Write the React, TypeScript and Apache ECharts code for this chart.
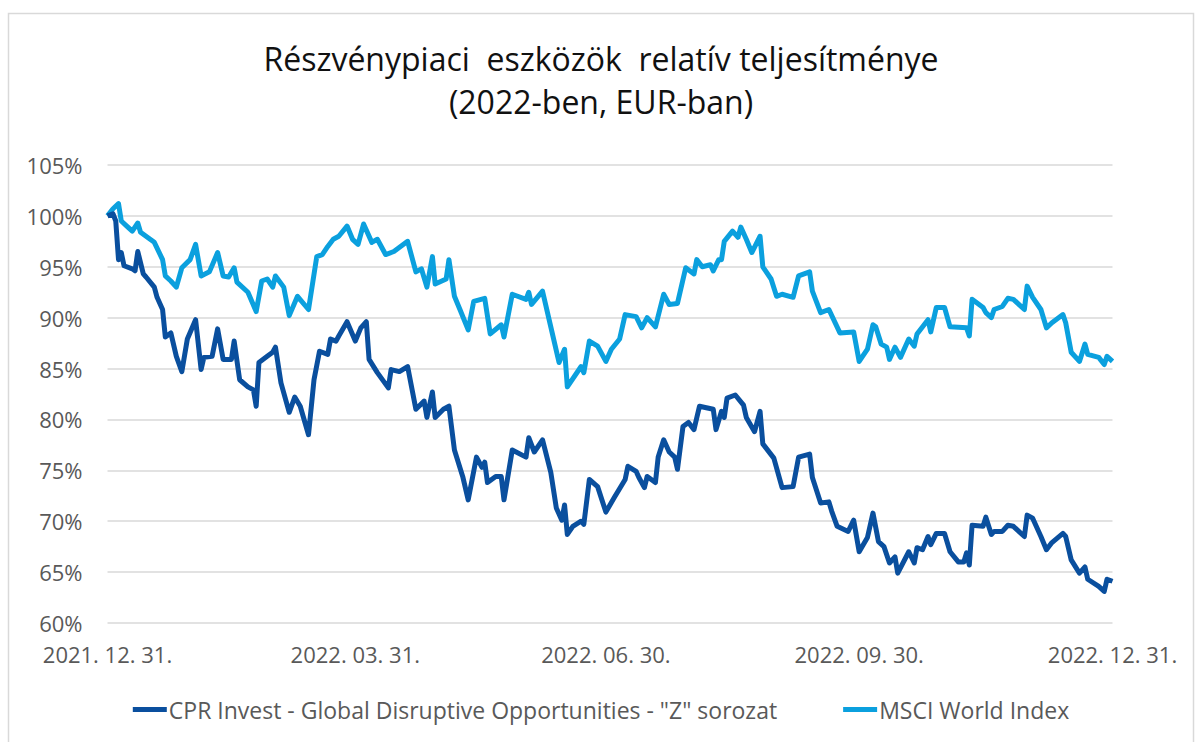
import React, { useEffect, useRef } from "react";
import * as echarts from "echarts";

const titleLines = ["Részvénypiaci  eszközök  relatív teljesítménye", "(2022-ben, EUR-ban)"];
const seriesNames = ['CPR Invest - Global Disruptive Opportunities - "Z" sorozat', "MSCI World Index"];

// x = calendar days since 2021-12-31
const xTickDays = [0, 90, 181, 273, 365];
const xTickLabels = ["2021. 12. 31.", "2022. 03. 31.", "2022. 06. 30.", "2022. 09. 30.", "2022. 12. 31."];

const cprDays = [
  0, 2, 3, 4, 5, 6, 9, 10, 11, 13, 14, 17, 18, 20, 21, 23, 25, 27, 29, 32, 34, 35, 38, 40, 42, 45, 46, 48, 51, 53,
  54, 55, 58, 60, 61, 63, 66, 68, 70, 73, 75, 77, 80, 81, 83, 84, 87, 90, 92, 94, 95, 98, 102, 103, 106, 109, 112,
  115, 116, 118, 119, 122, 124, 126, 129, 131, 134, 136, 137, 138, 141, 143, 144, 147, 152, 153, 155, 158, 161, 163,
  165, 166, 167, 169, 172, 173, 175, 178, 181, 184, 188, 189, 192, 193, 195, 196, 199, 200, 202, 204, 206, 207, 209,
  211, 213, 215, 220, 221, 223, 224, 225, 228, 231, 232, 235, 237, 238, 242, 245, 249, 251, 255, 256, 259, 262, 263,
  265, 269, 271, 273, 276, 278, 280, 282, 284, 286, 287, 291, 293, 294, 296, 298, 299, 301, 304, 306, 309, 311, 312,
  313, 314, 318, 319, 321, 322, 325, 327, 329, 333, 334, 336, 339, 341, 343, 347, 348, 350, 353, 355, 356, 360, 362,
  363, 365,
];
const cprValues = [
  100, 100.2, 99.5, 95.7, 96.4, 95.1, 94.8, 94.6, 96.5, 94.3, 94.0, 93.0, 92.0, 90.8, 88.1, 88.5, 86.2, 84.7, 87.9,
  89.8, 84.9, 86.1, 86.2, 88.9, 85.9, 85.9, 87.7, 83.9, 83.2, 82.9, 81.3, 85.6, 86.2, 86.6, 87.1, 83.6, 80.7, 82.2,
  81.3, 78.5, 83.9, 86.7, 86.4, 87.9, 87.7, 88.2, 89.6, 87.7, 89.0, 89.6, 85.9, 84.6, 83.1, 84.9, 84.7, 85.2, 81.0,
  81.8, 80.2, 82.7, 80.2, 81.0, 81.3, 77.0, 74.4, 72.1, 76.3, 75.3, 75.8, 73.8, 74.4, 74.4, 72.1, 77.0, 76.3, 78.2,
  76.8, 78.0, 74.8, 71.3, 70.1, 71.6, 68.7, 69.5, 70.0, 69.7, 74.1, 73.4, 70.9, 72.3, 74.1, 75.4, 74.9, 74.3, 73.3,
  74.4, 73.8, 76.3, 78.0, 76.8, 76.3, 75.1, 79.3, 79.7, 79.0, 81.3, 81.0, 79.0, 80.8, 80.2, 82.1, 82.4, 81.4, 80.2,
  78.8, 80.8, 77.6, 76.2, 73.3, 73.4, 76.3, 76.6, 74.3, 71.8, 71.9, 71.0, 69.5, 69.0, 70.1, 67.0, 68.4, 70.8, 68.0,
  67.5, 65.9, 66.5, 64.9, 67.0, 65.9, 67.4, 67.2, 68.5, 67.7, 68.8, 68.8, 67.0, 66.0, 66.0, 66.9, 65.7, 69.6, 69.5,
  70.4, 68.7, 69.0, 69.0, 69.6, 69.5, 68.5, 70.6, 70.3, 68.5, 67.2, 67.9, 68.8, 68.5, 66.2, 64.9, 65.5, 64.3, 63.6,
  63.1, 64.3, 64.1,
];

const msciDays = [
  0, 2, 4, 5, 7, 9, 11, 12, 14, 17, 20, 21, 23, 25, 27, 30, 32, 34, 37, 40, 42, 44, 46, 47, 51, 54, 56, 58, 60, 61,
  64, 66, 69, 73, 76, 78, 80, 82, 84, 87, 89, 91, 93, 96, 98, 101, 104, 109, 112, 114, 116, 118, 119, 123, 124, 126,
  128, 131, 133, 137, 139, 143, 144, 147, 152, 153, 154, 158, 161, 164, 166, 167, 172, 173, 175, 178, 181, 183, 186,
  188, 192, 194, 196, 199, 202, 204, 207, 210, 213, 214, 216, 219, 220, 222, 223, 224, 227, 229, 230, 232, 234, 237,
  238, 241, 243, 245, 249, 251, 255, 256, 259, 262, 266, 271, 273, 276, 278, 279, 281, 283, 284, 286, 288, 291, 293,
  294, 298, 299, 301, 304, 306, 312, 313, 314, 318, 319, 321, 322, 325, 327, 329, 333, 334, 336, 339, 341, 343, 347,
  348, 350, 353, 355, 356, 360, 362, 363, 365,
];
const msciValues = [
  100, 100.7, 101.2, 99.5, 99.0, 98.5, 99.3, 98.4, 98.0, 97.4, 95.7, 94.1, 93.6, 93.0, 94.9, 95.7, 97.2, 94.1, 94.5,
  96.4, 94.1, 94.0, 94.9, 93.5, 92.5, 90.6, 93.6, 93.8, 93.0, 94.1, 93.0, 90.2, 92.1, 90.8, 96.0, 96.2, 97.0, 97.7,
  98.0, 99.0, 97.7, 97.2, 99.2, 97.4, 97.7, 96.2, 96.5, 97.5, 94.5, 94.8, 93.0, 96.0, 93.3, 93.8, 95.7, 92.1, 90.8,
  88.8, 91.6, 91.9, 88.4, 89.3, 88.1, 92.3, 91.8, 92.5, 91.3, 92.6, 89.1, 85.6, 86.9, 83.2, 85.2, 84.6, 87.7, 87.2,
  85.7, 86.9, 87.9, 90.3, 90.1, 89.0, 90.0, 89.1, 92.3, 91.3, 91.4, 94.9, 94.3, 95.7, 95.0, 95.2, 94.6, 95.7, 95.7,
  97.5, 98.5, 97.9, 98.9, 97.7, 96.4, 98.0, 95.0, 93.8, 92.1, 92.3, 92.0, 94.1, 94.5, 92.6, 90.5, 90.8, 88.5, 88.6,
  85.7, 86.9, 89.3, 89.1, 87.4, 87.1, 85.9, 87.1, 86.1, 87.9, 87.2, 88.4, 89.8, 88.6, 91.0, 91.0, 89.1, 89.0, 88.2,
  91.8, 91.0, 90.5, 90.0, 90.8, 91.1, 91.9, 91.8, 90.8, 93.1, 92.0, 90.8, 89.0, 89.5, 90.3, 89.5, 86.6, 85.7, 87.4,
  86.4, 86.1, 85.4, 86.2, 85.7,
];

const FONT = "'Open Sans', 'Noto Sans', sans-serif";

export default function App() {
  const ref = useRef<HTMLDivElement>(null);
  useEffect(() => {
    if (!ref.current) return;
    const chart = echarts.init(ref.current, undefined, { renderer: "svg" });
    const zip = (xs: number[], ys: number[]) => xs.map((x, i) => [x, ys[i]]);
    chart.setOption({
      animation: false,
      backgroundColor: "#ffffff",
      textStyle: { fontFamily: FONT },
      graphic: [
        {
          type: "rect",
          shape: { x: 8.5, y: 13.5, width: 1185, height: 740 },
          style: { fill: "none", stroke: "#d9d9d9", lineWidth: 1.5 },
          silent: true,
        },
      ],
      title: {
        text: titleLines.join("\n"),
        left: "center",
        top: 32,
        textStyle: { fontFamily: FONT, fontSize: 32, fontWeight: "normal", color: "#111111", lineHeight: 43 },
      },
      legend: {
        bottom: 16,
        left: "center",
        itemGap: 66,
        itemWidth: 34,
        itemHeight: 5,
        icon: "rect",
        textStyle: { fontFamily: FONT, fontSize: 23, color: "#595959", padding: [0, 0, 0, -3] },
        data: seriesNames,
      },
      grid: { left: 107.5, right: 89.5, top: 165, bottom: 119, containLabel: false },
      xAxis: {
        type: "value",
        min: 0,
        max: 365,
        axisLine: { show: false },
        axisTick: { show: false },
        splitLine: { show: false },
        axisLabel: {
          customValues: xTickDays,
          margin: 20,
          fontSize: 22,
          color: "#595959",
          fontFamily: FONT,
          formatter: (v: number) => {
            const i = xTickDays.indexOf(Math.round(v));
            return i >= 0 ? xTickLabels[i] : "";
          },
        },
      },
      yAxis: {
        type: "value",
        min: 60,
        max: 105,
        interval: 5,
        axisLine: { show: false },
        axisTick: { show: false },
        splitLine: { lineStyle: { color: "#d9d9d9", width: 1.5 } },
        axisLabel: { formatter: "{value}%", margin: 25, fontSize: 22, color: "#595959", fontFamily: FONT },
      },
      series: [
        {
          name: seriesNames[0],
          type: "line",
          showSymbol: false,
          data: zip(cprDays, cprValues),
          itemStyle: { color: "#0a4f9e" },
          lineStyle: { color: "#0a4f9e", width: 5, join: "round" },
          z: 3,
        },
        {
          name: seriesNames[1],
          type: "line",
          showSymbol: false,
          data: zip(msciDays, msciValues),
          itemStyle: { color: "#0ba0de" },
          lineStyle: { color: "#0ba0de", width: 5, join: "round" },
          z: 2,
        },
      ],
    });
    return () => chart.dispose();
  }, []);
  return (
    <div style={{ position: "absolute", left: 0, top: 0, width: 1202, height: 742 }}>
      <div ref={ref} style={{ width: 1202, height: 742 }} />
    </div>
  );
}
